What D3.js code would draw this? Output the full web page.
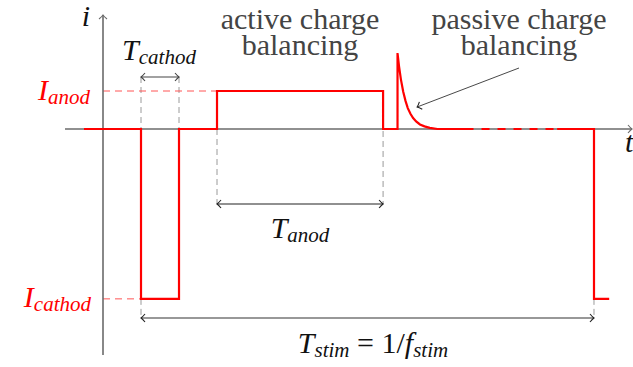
<!DOCTYPE html>
<html>
<head>
<meta charset="utf-8">
<script src="https://cdn.jsdelivr.net/npm/d3@7"></script>
</head>
<body style="margin:0">
<svg id="chart" width="633" height="367" style="font-family: 'Liberation Serif'"></svg>
<script>
// Stimulation current waveform (time in microseconds, current in arbitrary units)
const I_ANOD = 1.0;
const I_CATHOD = -4.47;
const T_CATHOD_START = 100;
const T_CATHOD_END = 200;
const T_ANOD_START = 300;
const T_ANOD_END = 737;
const T_NEXT = 1292;

// first period: cathodic pulse, active anodic phase, passive discharge spike
const pulseT = [-50, 100, 100, 200, 200, 300, 300, 737, 737, 775,
                775, 779, 784, 790, 796, 802, 809, 816, 824, 834, 846, 860, 880, 975];
const pulseI = [0, 0, -4.47, -4.47, 0, 0, 1.0, 1.0, 0, 0,
                2.0, 1.65, 1.30, 0.98, 0.74, 0.55, 0.40, 0.29, 0.20, 0.12, 0.07, 0.03, 0.0, 0];
// idle stretch (drawn dashed) and start of the next period
const idleT = [975, 1195];
const idleI = [0, 0];
const nextT = [1195, 1292, 1292, 1332];
const nextI = [0, 0, -4.47, -4.47];

const FONT = '"Liberation Serif"';

const svg = d3.select("#chart");
const x = d3.scaleLinear().domain([-100, 1392]).range([65, 632]);
const y = d3.scaleLinear().domain([-6, 3]).range([357, 15]);

const axisColor = "#6b6b6b";
const guideColor = "#9a9a9a";
const red = "#ff0000";

// arrow heads
const defs = svg.append("defs");
function marker(id, color) {
  defs.append("marker")
    .attr("id", id)
    .attr("viewBox", "-6 -6 8 12")
    .attr("refX", 0).attr("refY", 0)
    .attr("markerWidth", 8).attr("markerHeight", 12)
    .attr("markerUnits", "userSpaceOnUse")
    .attr("orient", "auto-start-reverse")
    .append("path")
    .attr("d", "M-4,-4 Q-1.5,-1 0,0 Q-1.5,1 -4,4")
    .attr("fill", "none")
    .attr("stroke", color)
    .attr("stroke-width", 1.1);
}
marker("headAxis", axisColor);
marker("headDark", "#222");
marker("headMid", "#444");

// guide lines
function guide(x1, y1, x2, y2, color, dash) {
  svg.append("line")
    .attr("x1", x1).attr("y1", y1).attr("x2", x2).attr("y2", y2)
    .attr("stroke", color).attr("stroke-width", 1)
    .attr("stroke-dasharray", dash);
}
const yTCath = 77, yTAnod = 204, yTStim = 318;
guide(x(T_CATHOD_START), yTCath, x(T_CATHOD_START), y(0), guideColor, "6,4");
guide(x(T_CATHOD_END), yTCath, x(T_CATHOD_END), y(0), guideColor, "6,4");
guide(x(T_ANOD_START), y(0), x(T_ANOD_START), yTAnod, guideColor, "6,4");
guide(x(T_ANOD_END), y(I_ANOD), x(T_ANOD_END), yTAnod, guideColor, "6,4");
guide(x(T_CATHOD_START), y(I_CATHOD), x(T_CATHOD_START), yTStim, guideColor, "6,4");
guide(x(T_NEXT), y(I_CATHOD), x(T_NEXT), yTStim, guideColor, "6,4");
guide(x(0), y(I_ANOD), x(T_ANOD_START), y(I_ANOD), "#ff5555", "7,5");
guide(x(0), y(I_CATHOD), x(T_CATHOD_START), y(I_CATHOD), "#ff5555", "7,5");

// axes
svg.append("line")
  .attr("x1", x(-100)).attr("y1", y(0)).attr("x2", x(1392)).attr("y2", y(0))
  .attr("stroke", axisColor).attr("stroke-width", 1.6)
  .attr("marker-end", "url(#headAxis)");
svg.append("line")
  .attr("x1", x(0)).attr("y1", y(-5.95)).attr("x2", x(0)).attr("y2", y(3))
  .attr("stroke", axisColor).attr("stroke-width", 1.6)
  .attr("marker-end", "url(#headAxis)");

// waveform
const line = d3.line().x(d => x(d[0])).y(d => y(d[1]));
function wave(ts, is, dash) {
  svg.append("path")
    .attr("d", line(ts.map((t, k) => [t, is[k]])))
    .attr("fill", "none")
    .attr("stroke", red)
    .attr("stroke-width", 2.2)
    .attr("stroke-linejoin", "miter")
    .attr("stroke-dasharray", dash);
}
wave(pulseT, pulseI, null);
wave(idleT, idleI, "0,8,8,0");
wave(nextT, nextI, null);

// duration arrows
function span(x1, x2, yy, color, head) {
  svg.append("line")
    .attr("x1", x1).attr("y1", yy).attr("x2", x2).attr("y2", yy)
    .attr("stroke", color).attr("stroke-width", 1.1)
    .attr("marker-start", `url(#${head})`)
    .attr("marker-end", `url(#${head})`);
}
span(x(T_CATHOD_START), x(T_CATHOD_END), yTCath, "#444", "headMid");
span(x(T_ANOD_START), x(T_ANOD_END), yTAnod, "#222", "headDark");
span(x(T_CATHOD_START), x(T_NEXT), yTStim, "#333", "headDark");

// pointer to the passive discharge
svg.append("line")
  .attr("x1", 519).attr("y1", 68)
  .attr("x2", x(816) + 4).attr("y2", 107)
  .attr("stroke", "#333").attr("stroke-width", 0.9)
  .attr("marker-end", "url(#headDark)");

// place a text by its measured width (anchor: 0 start, 0.5 middle, 1 end)
function place(t, px, anchor) {
  const w = t.node().getComputedTextLength();
  t.attr("x", px - anchor * w);
}

// math-style labels: [text, isSubscript, italic]
function mathLabel(px, py, parts, anchor, color) {
  const t = svg.append("text")
    .attr("x", px).attr("y", py)
    .style("font-family", FONT)
    .attr("font-size", 30)
    .attr("fill", color);
  let shifted = 0;
  parts.forEach(([s, sub, ital]) => {
    const want = sub ? 4 : 0;
    t.append("tspan")
      .attr("dy", want - shifted)
      .attr("font-size", sub ? 21 : 30)
      .attr("font-style", ital ? "italic" : null)
      .text(s);
    shifted = want;
  });
  place(t, px, anchor);
}
mathLabel(86, 26, [["i", false, true]], 0.5, "#111");
mathLabel(625, 152, [["t", false, true]], 0, "#111");
mathLabel(159, 60, [["T", false, true], ["cathod", true, true]], 0.5, "#111");
mathLabel(90, 100, [["I", false, true], ["anod", true, true]], 1, red);
mathLabel(91, 307, [["I", false, true], ["cathod", true, true]], 1, red);
mathLabel(300, 238, [["T", false, true], ["anod", true, true]], 0.5, "#111");
mathLabel(373, 353, [["T", false, true], ["stim", true, true],
                     [" = 1/", false, false], ["f", false, true], ["stim", true, true]],
          0.5, "#111");

// annotations, one text per line
const notes = [
  { cx: 300, lines: ["active charge", "balancing"] },
  { cx: 519, lines: ["passive charge", "balancing"] }
];
notes.forEach(n => {
  n.lines.forEach((s, k) => {
    const t = svg.append("text")
      .attr("y", 29 + k * 26)
      .style("font-family", FONT)
      .attr("font-size", 30)
      .attr("fill", "#444")
      .text(s);
    place(t, n.cx, 0.5);
  });
});
</script>
</body>
</html>
